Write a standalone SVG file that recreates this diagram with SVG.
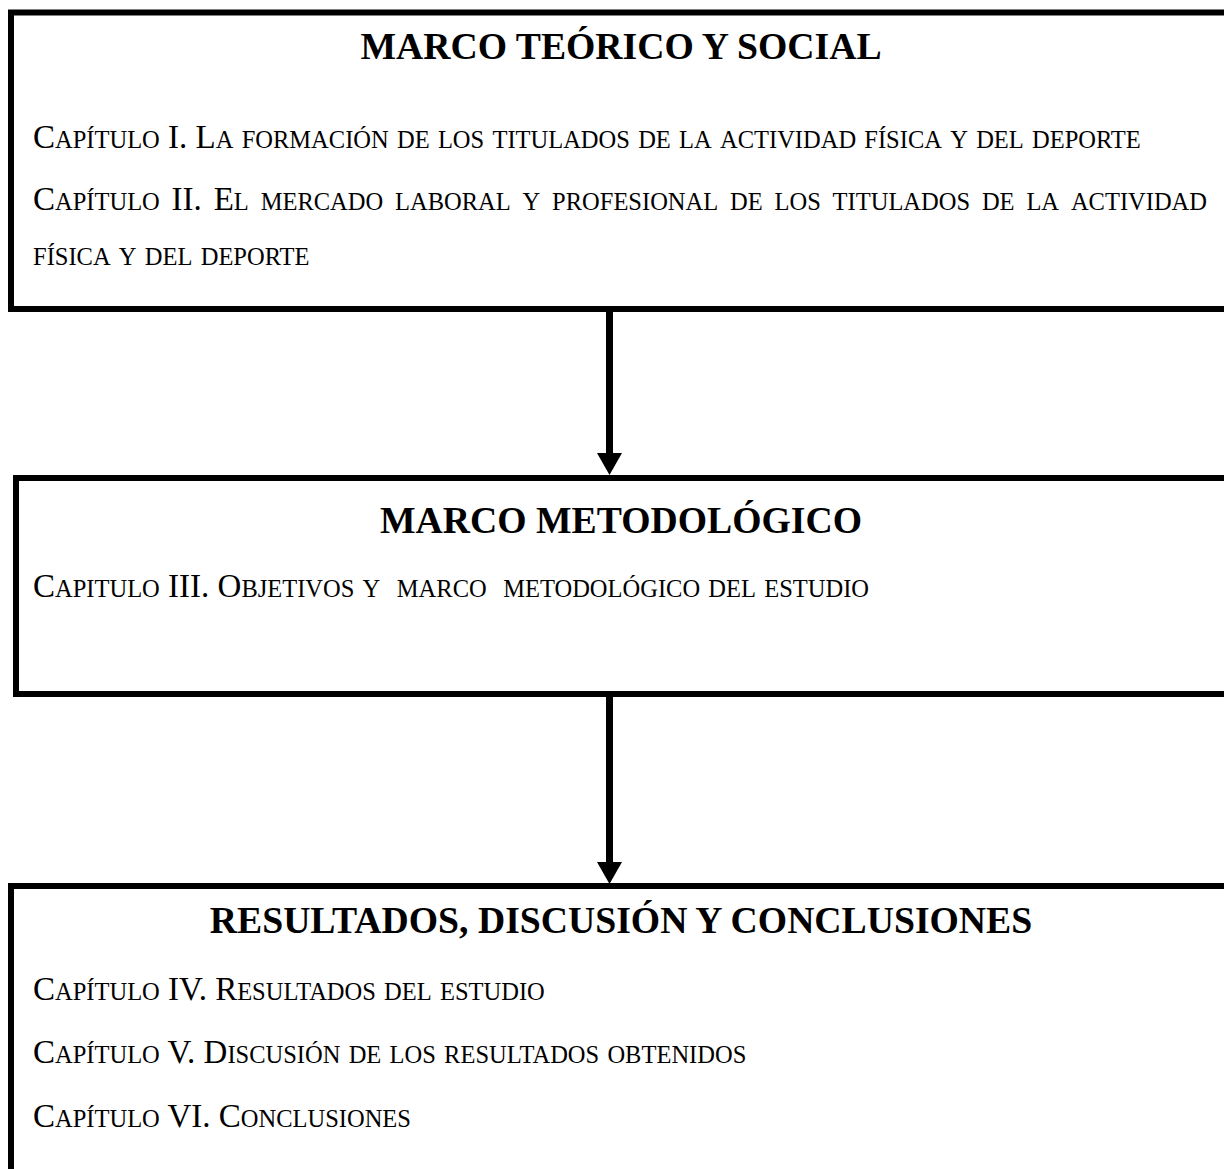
<svg xmlns="http://www.w3.org/2000/svg" width="1224" height="1169" viewBox="0 0 1224 1169">
<style>
.box{fill:#fff;stroke:#000;stroke-width:6}
.title{font-family:"Liberation Serif","Times New Roman",serif;font-weight:bold;font-size:37.7px;fill:#000;text-anchor:middle}
.body{font-family:"Liberation Serif","Times New Roman",serif;font-size:33px;fill:#000;white-space:pre}
.sc{font-size:24.5px}
.conn{stroke:#000;stroke-width:7;fill:none}
</style>
<defs>
<marker id="head" markerUnits="userSpaceOnUse" viewBox="0 0 22 25" markerWidth="22" markerHeight="25" refX="0" refY="12.5" orient="auto">
<path d="M0,0 L22,12.5 L0,25 Z" fill="#000"/>
</marker>
</defs>
<rect width="1224" height="1169" fill="#fff"/>
<g id="connectors">
<line class="conn" x1="609.5" y1="312" x2="609.5" y2="453" marker-end="url(#head)"/>
<line class="conn" x1="609.5" y1="697" x2="609.5" y2="862" marker-end="url(#head)"/>
</g>
<g id="marco-teorico">
<rect class="box" x="11" y="12.5" width="1220" height="296.5"/>
<text class="title" x="621" y="59">MARCO TEÓRICO Y SOCIAL</text>
<text class="body" x="33" y="148">C<tspan class="sc">APÍTULO</tspan> I. L<tspan class="sc">A</tspan> <tspan class="sc">FORMACIÓN</tspan> <tspan class="sc">DE</tspan> <tspan class="sc">LOS</tspan> <tspan class="sc">TITULADOS</tspan> <tspan class="sc">DE</tspan> <tspan class="sc">LA</tspan> <tspan class="sc">ACTIVIDAD</tspan> <tspan class="sc">FÍSICA</tspan> <tspan class="sc">Y</tspan> <tspan class="sc">DEL</tspan> <tspan class="sc">DEPORTE</tspan></text>
<text class="body" y="210"><tspan x="33">C</tspan><tspan class="sc">APÍTULO</tspan><tspan x="171.6">II.</tspan><tspan x="213.7">E</tspan><tspan class="sc">L</tspan><tspan class="sc" x="260.7">MERCADO</tspan><tspan class="sc" x="395">LABORAL</tspan><tspan class="sc" x="522.6">Y</tspan><tspan class="sc" x="552.1">PROFESIONAL</tspan><tspan class="sc" x="730">DE</tspan><tspan class="sc" x="774.5">LOS</tspan><tspan class="sc" x="832.6">TITULADOS</tspan><tspan class="sc" x="981.9">DE</tspan><tspan class="sc" x="1026.4">LA</tspan><tspan class="sc" x="1070.9">ACTIVIDAD</tspan></text>
<text class="body" x="33" y="265"><tspan class="sc">FÍSICA</tspan> <tspan class="sc">Y</tspan> <tspan class="sc">DEL</tspan> <tspan class="sc">DEPORTE</tspan></text>
</g>
<g id="marco-metodologico">
<rect class="box" x="16" y="478" width="1215" height="216"/>
<text class="title" x="621" y="533">MARCO METODOLÓGICO</text>
<text class="body" x="33" y="597">C<tspan class="sc">APITULO</tspan> III. O<tspan class="sc">BJETIVOS</tspan> <tspan class="sc">Y</tspan>  <tspan class="sc">MARCO</tspan>  <tspan class="sc">METODOLÓGICO</tspan> <tspan class="sc">DEL</tspan> <tspan class="sc">ESTUDIO</tspan></text>
</g>
<g id="resultados">
<rect class="box" x="11" y="886" width="1220" height="300"/>
<text class="title" x="621" y="933">RESULTADOS, DISCUSIÓN Y CONCLUSIONES</text>
<text class="body" x="33" y="1000">C<tspan class="sc">APÍTULO</tspan> IV. R<tspan class="sc">ESULTADOS</tspan> <tspan class="sc">DEL</tspan> <tspan class="sc">ESTUDIO</tspan></text>
<text class="body" x="33" y="1063">C<tspan class="sc">APÍTULO</tspan> V. D<tspan class="sc">ISCUSIÓN</tspan> <tspan class="sc">DE</tspan> <tspan class="sc">LOS</tspan> <tspan class="sc">RESULTADOS</tspan> <tspan class="sc">OBTENIDOS</tspan></text>
<text class="body" x="33" y="1127">C<tspan class="sc">APÍTULO</tspan> VI. C<tspan class="sc">ONCLUSIONES</tspan></text>
</g>
</svg>
